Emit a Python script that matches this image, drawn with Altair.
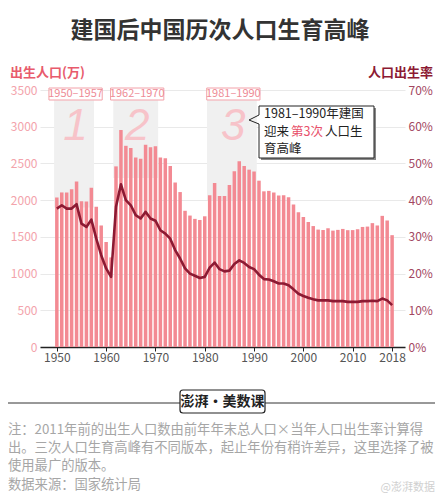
import altair as alt
import pandas as pd

# ---------------- data ----------------
years = list(range(1950, 2019))
births = [2036, 2105, 2105, 2150, 2255, 1985, 1980, 2170, 1910, 1655,
          1430, 1220, 2460, 2955, 2740, 2710, 2580, 2565, 2755, 2720,
          2735, 2580, 2570, 2465, 2240, 2110, 1855, 1790, 1745, 1730,
          1780, 2065, 2235, 2055, 2055, 2205, 2395, 2530, 2465, 2415,
          2390, 2265, 2120, 2126, 2104, 2063, 2067, 2038, 1942, 1834,
          1771, 1702, 1647, 1599, 1593, 1617, 1585, 1595, 1608, 1591,
          1592, 1604, 1635, 1640, 1687, 1655, 1786, 1723, 1523]
rates = [37.7, 38.6, 37.7, 37.7, 38.9, 33.6, 32.7, 34.7, 29.5, 25.0,
         21.4, 19.1, 38.2, 44.3, 40.0, 38.6, 35.9, 35.0, 36.8, 35.0,
         34.4, 31.8, 30.9, 29.5, 26.4, 24.1, 21.4, 20.0, 19.4, 18.8,
         19.1, 21.6, 23.0, 21.2, 20.6, 20.8, 22.6, 23.6, 22.9, 21.8,
         21.2, 19.7, 18.5, 18.4, 17.9, 17.3, 17.3, 16.8, 15.7, 14.5,
         13.9, 13.4, 13.0, 12.7, 12.7, 12.7, 12.5, 12.5, 12.5, 12.3,
         12.3, 12.3, 12.5, 12.5, 12.6, 12.5, 13.2, 12.7, 11.4]
x_ticks = [1950, 1960, 1970, 1980, 1990, 2000, 2010, 2018]
left_ticks = [0, 500, 1000, 1500, 2000, 2500, 3000, 3500]
right_ticks = [0, 10, 20, 30, 40, 50, 60, 70]

period_start = [1950, 1962, 1981]
period_end = [1957, 1970, 1990]
period_num = ["1", "2", "3"]
hatch_top = [3360, 3360, 3360]
hatch_bottom = [1900, 2300, 2000]

TITLE = "建国后中国历次人口生育高峰"
LEFT_TITLE = "出生人口(万)"
RIGHT_TITLE = "人口出生率"
CALLOUT = ["1981–1990年建国", "迎来", "第3次", "人口生", "育高峰"]
NOTES = ["注：2011年前的出生人口数由前年年末总人口×当年人口出生率计算得",
         "出。三次人口生育高峰有不同版本，起止年份有稍许差异，这里选择了被",
         "使用最广的版本。",
         "数据来源：国家统计局"]
LOGO = "澎湃·美数课"
WATERMARK = "@澎湃数据"

FONT = "Noto Sans CJK SC"
BAR = "#f38a93"
LINE = "#8c1a33"
PINK = "#ee8c96"

df = pd.DataFrame({"year": years, "births": births, "rate": rates})
pdf = pd.DataFrame({
    "s": [s - 0.55 for s in period_start],
    "e": [e + 0.55 for e in period_end],
    "mid": [(s + e) / 2 + 0.3 for s, e in zip(period_start, period_end)],
    "label": [f"{s}–{e}" for s, e in zip(period_start, period_end)],
    "num": period_num,
    "top": hatch_top,
    "bot": hatch_bottom,
})
pdf["bs"] = pdf["mid"] - 5.4
pdf["be"] = pdf["mid"] + 5.4

xscale = alt.Scale(domain=[1947.6, 2019.6], nice=False, zero=False)
xaxis = alt.Axis(values=x_ticks, format="d", title=None, grid=False,
                 labelColor="#555", labelFontSize=12, labelFont=FONT,
                 tickColor="#222", tickSize=4, domainColor="#222",
                 domainWidth=1.5, labelPadding=1, labelFlush=False)


def X(field):
    return alt.X(field, type="quantitative", scale=xscale, axis=xaxis)


yscale = alt.Scale(domain=[0, 3500], nice=False)
yaxis = alt.Axis(values=left_ticks, format="d", title=None, orient="left",
                 ticks=False, domain=False, gridColor="#e9e9e9",
                 labelColor="#f3a3ab", labelFontSize=12, labelFont=FONT,
                 labelPadding=3)

hatch = alt.Chart(pdf).mark_rect(color="#f0f0f0").encode(
    x=X("s"), x2="e",
    y=alt.Y("top:Q", scale=yscale, axis=yaxis), y2="bot")

nums = alt.Chart(pdf).mark_text(
    font="Liberation Sans", fontSize=44, fontStyle="italic", color="#f7c3c9",
    align="center", baseline="middle").encode(
    x=X("mid"), y=alt.value(37), text="num:N")

bars = alt.Chart(df).mark_bar(width=3.5, color=BAR).encode(
    x=X("year"), y=alt.Y("births:Q", scale=yscale, axis=yaxis))

left_group = alt.layer(hatch, nums, bars)

line = alt.Chart(df).mark_line(color=LINE, strokeWidth=2.6,
                               strokeJoin="round").encode(
    x=X("year"),
    y=alt.Y("rate:Q", scale=alt.Scale(domain=[0, 70], nice=False),
            axis=alt.Axis(values=right_ticks, orient="right", title=None,
                          ticks=False, domain=False, grid=False,
                          labelColor="#a3475f", labelFontSize=12,
                          labelFont=FONT, labelPadding=3,
                          labelExpr="datum.value + '%'")))

plabel_box = alt.Chart(pdf).mark_rect(fill="white", stroke="#f2a0a8",
                                      strokeWidth=1).encode(
    x=X("bs"), x2="be", y=alt.value(-2), y2=alt.value(10))
plabel = alt.Chart(pdf).mark_text(font=FONT, fontSize=11, color=PINK,
                                  baseline="middle").encode(
    x=X("mid"), y=alt.value(4), text="label:N")

one = pd.DataFrame({"a": [0]})


def txt(t, x, y, **kw):
    d = pd.DataFrame({"t": [t]})
    params = dict(font=FONT, baseline="middle")
    params.update(kw)
    return alt.Chart(d).mark_text(**params).encode(
        x=alt.value(x), y=alt.value(y), text="t:N")


def box(x1, x2, y1, y2, **kw):
    return alt.Chart(one).mark_rect(**kw).encode(
        x=alt.value(x1), x2=alt.value(x2), y=alt.value(y1), y2=alt.value(y2))


def rule(x1, y1, x2, y2, **kw):
    return alt.Chart(one).mark_rule(**kw).encode(
        x=alt.value(x1), x2=alt.value(x2), y=alt.value(y1), y2=alt.value(y2))


CF = 12.5
annots = [
    txt(TITLE, 180, -59, fontSize=23, fontWeight="bold", color="#333",
        align="center"),
    txt(LEFT_TITLE, -30, -17, fontSize=13, fontWeight="bold", color="#e85b6c",
        align="left"),
    txt(RIGHT_TITLE, 393, -17, fontSize=13, fontWeight="bold", color=LINE,
        align="right"),
    # callout
    box(221, 336, 18, 70, fill="#888"),
    box(219, 334, 16, 68, fill="white", stroke="#222", strokeWidth=1),
    rule(219, 25, 219, 34, color="white", strokeWidth=2),
    rule(219, 25, 209, 30, color="#222", strokeWidth=1),
    rule(209, 30, 219, 34, color="#222", strokeWidth=1),
    txt(CALLOUT[0], 224, 24, fontSize=CF, color="#222", align="left"),
    txt(CALLOUT[1], 224, 41.5, fontSize=CF, color="#222", align="left"),
    txt(CALLOUT[2], 251, 41.5, fontSize=CF, color="#e8506a", align="left"),
    txt(CALLOUT[3], 285, 41.5, fontSize=CF, color="#222", align="left"),
    txt(CALLOUT[4], 224, 59, fontSize=CF, color="#222", align="left"),
    # footer
    rule(-32, 313, 140, 313, color="#333", strokeWidth=1),
    rule(225, 313, 395, 313, color="#333", strokeWidth=1),
    box(140, 225, 300, 323, fill="white", stroke="#222", strokeWidth=1.2,
        cornerRadius=3),
    txt(LOGO, 182.5, 312, fontSize=14, fontWeight="bold", color="#222",
        align="center"),
    txt(NOTES[0], -32, 340, fontSize=13.3, color="#a6a6a6", align="left"),
    txt(NOTES[1], -32, 358, fontSize=13.3, color="#a6a6a6", align="left"),
    txt(NOTES[2], -32, 376, fontSize=13.3, color="#a6a6a6", align="left"),
    txt(NOTES[3], -32, 395, fontSize=13.3, color="#a6a6a6", align="left"),
    txt(WATERMARK, 395, 398, fontSize=11, color="#d0d0d0", align="right"),
]

chart = alt.layer(left_group, line, plabel_box, plabel, *annots).resolve_scale(
    y="independent"
).properties(
    width=365, height=257, autosize="none",
    padding={"left": 40, "top": 90, "right": 35, "bottom": 154},
    background="white",
).configure_view(stroke=None)

chart.save("out.html", embed_options={"renderer": "svg", "actions": False})
